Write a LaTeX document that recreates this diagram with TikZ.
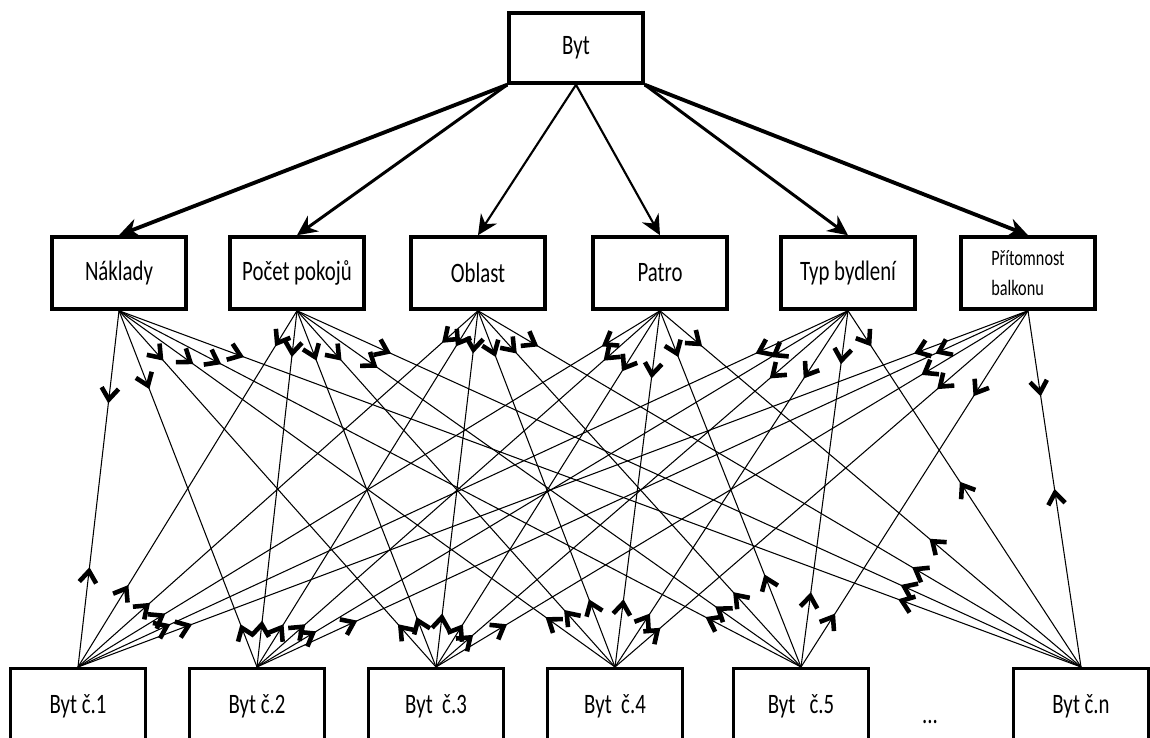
\documentclass[tikz,border=0pt]{standalone}
\usepackage{fontspec}
\setmainfont{Carlito}[FakeStretch=0.74]
\usetikzlibrary{arrows.meta,decorations.markings}
\tikzset{
  every node/.style={font=\fontsize{16}{19}\selectfont},
  chev/.tip={Straight Barb[length=2.3mm, width=3.4mm, line width=2.6pt]},
  box/.style={draw, line width=2pt, minimum width=2.68cm, minimum height=1.44cm,
              align=center, inner sep=2pt},
  aptbox/.style={draw, line width=1.8pt, minimum width=2.7cm, minimum height=1.5cm,
                 anchor=north, inner sep=2pt},
  toparr/.style={-{Stealth[length=4mm, width=3.8mm]}, line width=#1},
  link/.style 2 args={line width=0.6pt, postaction={decorate},
    decoration={markings,
      mark=at position #1 with {\arrow{chev}},
      mark=at position #2 with {\arrowreversed{chev}}}},
}
\begin{document}
\begin{tikzpicture}
\useasboundingbox (0,0) rectangle (23,14.74);

% --- top level ---
\node[box, minimum height=1.4cm] (byt) at (11.52,13.78) {Byt};

\node[box] (nak) at (2.38,9.28) {Náklady};
\node[box] (poc) at (5.94,9.28) {Počet pokojů};
\node[box] (obl) at (9.56,9.28) {Oblast};
\node[box] (pat) at (13.2,9.28) {Patro};
\node[box] (typ) at (16.96,9.28) {Typ bydlení};
\node[box, align=left, font=\fontsize{12.5}{17}\selectfont] (bal) at (20.56,9.28) {Přítomnost\\balkonu};

\draw[toparr=2.2pt] (byt.south west) -- (nak.north);
\draw[toparr=1.7pt] (byt.south west) -- (poc.north);
\draw[toparr=1.2pt] (byt.south) -- (obl.north);
\draw[toparr=1.2pt] (byt.south) -- (pat.north);
\draw[toparr=1.7pt] (byt.south east) -- (typ.north);
\draw[toparr=2.2pt] (byt.south east) -- (bal.north);

% --- apartments ---
\node[aptbox] (byt1) at (1.56,1.4) {Byt č.1};
\node[aptbox] (byt2) at (5.14,1.4) {Byt č.2};
\node[aptbox] (byt3) at (8.72,1.4) {Byt\ \ č.3};
\node[aptbox] (byt4) at (12.3,1.4) {Byt\ \ č.4};
\node[aptbox] (byt5) at (16.02,1.4) {Byt\ \ \ č.5};
\node (dots) at (18.6,0.3) {...};
\node[aptbox] (bytn) at (21.62,1.4) {Byt č.n};

% --- links attribute <-> apartment ---
\draw[link={0.26}{0.72}] (nak.south) -- (byt1.north);
\draw[link={0.22}{0.88}] (nak.south) -- (byt2.north);
\draw[link={0.14}{0.88}] (nak.south) -- (byt3.north);
\draw[link={0.15}{0.86}] (nak.south) -- (byt4.north);
\draw[link={0.15}{0.86}] (nak.south) -- (byt5.north);
\draw[link={0.13}{0.81}] (nak.south) -- (bytn.north);

\draw[link={0.10}{0.77}] (poc.south) -- (byt1.north);
\draw[link={0.13}{0.87}] (poc.south) -- (byt2.north);
\draw[link={0.14}{0.86}] (poc.south) -- (byt3.north);
\draw[link={0.14}{0.84}] (poc.south) -- (byt4.north);
\draw[link={0.16}{0.83}] (poc.south) -- (byt5.north);
\draw[link={0.12}{0.77}] (poc.south) -- (bytn.north);

\draw[link={0.09}{0.82}] (obl.south) -- (byt1.north);
\draw[link={0.10}{0.88}] (obl.south) -- (byt2.north);
\draw[link={0.12}{0.85}] (obl.south) -- (byt3.north);
\draw[link={0.13}{0.81}] (obl.south) -- (byt4.north);
\draw[link={0.12}{0.79}] (obl.south) -- (byt5.north);
\draw[link={0.10}{0.72}] (obl.south) -- (bytn.north);

\draw[link={0.10}{0.85}] (pat.south) -- (byt1.north);
\draw[link={0.14}{0.88}] (pat.south) -- (byt2.north);
\draw[link={0.17}{0.88}] (pat.south) -- (byt3.north);
\draw[link={0.19}{0.81}] (pat.south) -- (byt4.north);
\draw[link={0.13}{0.74}] (pat.south) -- (byt5.north);
\draw[link={0.10}{0.64}] (pat.south) -- (bytn.north);

\draw[link={0.12}{0.88}] (typ.south) -- (byt1.north);
\draw[link={0.13}{0.90}] (typ.south) -- (byt2.north);
\draw[link={0.19}{0.91}] (typ.south) -- (byt3.north);
\draw[link={0.19}{0.85}] (typ.south) -- (byt4.north);
\draw[link={0.15}{0.79}] (typ.south) -- (byt5.north);
\draw[link={0.10}{0.48}] (typ.south) -- (bytn.north);

\draw[link={0.12}{0.88}] (bal.south) -- (byt1.north);
\draw[link={0.12}{0.87}] (bal.south) -- (byt2.north);
\draw[link={0.18}{0.88}] (bal.south) -- (byt3.north);
\draw[link={0.22}{0.89}] (bal.south) -- (byt4.north);
\draw[link={0.24}{0.85}] (bal.south) -- (byt5.north);
\draw[link={0.24}{0.50}] (bal.south) -- (bytn.north);

\end{tikzpicture}
\end{document}
